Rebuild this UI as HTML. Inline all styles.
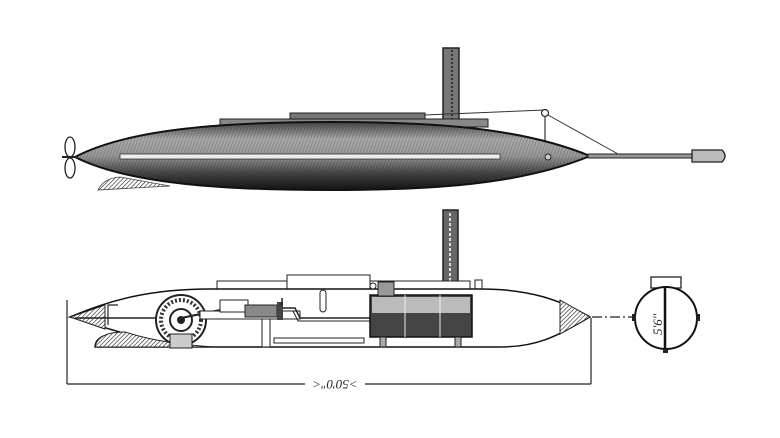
<!DOCTYPE html>
<html><head><meta charset="utf-8"><style>
html,body{margin:0;padding:0;background:#fff;}
svg{display:block;}
</style></head><body>
<svg width="780" height="438" viewBox="0 0 780 438" xmlns="http://www.w3.org/2000/svg">
<defs>
<pattern id="h" width="3" height="3" patternUnits="userSpaceOnUse" patternTransform="rotate(20)">
<rect width="3" height="3" fill="none"/><line x1="0" y1="0" x2="0" y2="3" stroke="#222" stroke-width="1.2"/></pattern>
<pattern id="d" width="3" height="3" patternUnits="userSpaceOnUse" patternTransform="rotate(45)">
<rect width="3" height="3" fill="#fff"/><line x1="0" y1="0" x2="0" y2="3" stroke="#222" stroke-width="1.2"/></pattern>
<linearGradient id="g" x1="0" y1="0" x2="0" y2="1">
<stop offset="0" stop-color="#444"/><stop offset="0.25" stop-color="#aaa"/><stop offset="0.5" stop-color="#999"/><stop offset="0.75" stop-color="#444"/><stop offset="1" stop-color="#111"/></linearGradient>
</defs>
<rect width="780" height="438" fill="#fff"/>
<!-- TOP VIEW -->
<rect x="443" y="48" width="16" height="78" fill="#777" stroke="#222" stroke-width="1.5"/>
<line x1="452" y1="50" x2="452" y2="124" stroke="#333" stroke-width="2" stroke-dasharray="2 2"/>
<rect x="290" y="113" width="135" height="8" fill="#777" stroke="#222"/>
<rect x="220" y="119" width="268" height="8" fill="#888" stroke="#222"/>
<line x1="425" y1="115" x2="545" y2="110" stroke="#333" stroke-width="1"/>
<circle cx="545" cy="113" r="3.5" fill="#fff" stroke="#222" stroke-width="1.2"/>
<line x1="545" y1="116" x2="545" y2="155" stroke="#333" stroke-width="1.2"/>
<line x1="548" y1="115" x2="618" y2="154" stroke="#333" stroke-width="1"/>
<path d="M98,190 Q104,178 120,177 L170,186 Z" fill="url(#d)" stroke="#444" stroke-width="0.8"/>
<path d="M75,157 C130,128 230,122 330,122 C430,122 520,127 590,156 C520,185 430,190 330,190 C230,190 130,185 75,157 Z" fill="url(#g)" stroke="#111" stroke-width="2"/>
<path d="M75,157 C130,128 230,122 330,122 C430,122 520,127 590,156 C520,185 430,190 330,190 C230,190 130,185 75,157 Z" fill="url(#h)" opacity="0.35"/>
<rect x="120" y="154" width="380" height="5" fill="#eee" stroke="#333" stroke-width="0.8"/>
<circle cx="548" cy="157" r="3" fill="#ccc" stroke="#222"/>
<rect x="588" y="154" width="104" height="4" fill="#999" stroke="#222" stroke-width="1"/>
<path d="M692,150 L722,150 Q728,156 722,162 L692,162 Z" fill="#bbb" stroke="#222" stroke-width="1.3"/>
<ellipse cx="70" cy="147" rx="5" ry="10" fill="#fff" stroke="#222" stroke-width="1.3"/>
<ellipse cx="70" cy="168" rx="5" ry="10" fill="#fff" stroke="#222" stroke-width="1.3"/>
<line x1="62" y1="157" x2="78" y2="157" stroke="#222" stroke-width="2"/>
<!-- BOTTOM VIEW -->
<rect x="443" y="210" width="15" height="85" fill="#666" stroke="#222" stroke-width="1.5"/>
<line x1="450" y1="213" x2="450" y2="292" stroke="#ddd" stroke-width="2" stroke-dasharray="3 2"/>
<rect x="217" y="281" width="70" height="8" fill="#fff" stroke="#222"/>
<rect x="287" y="275" width="83" height="14" fill="#fff" stroke="#222"/>
<rect x="370" y="281" width="100" height="8" fill="#fff" stroke="#222"/>
<rect x="475" y="280" width="7" height="9" fill="#fff" stroke="#222"/>
<path d="M70,317 C110,300 150,289 210,289 L480,289 C530,289 560,300 590,317 C560,334 540,347 500,347 L95,347 C95,340 100,335 120,332 C100,327 85,320 70,317 Z" fill="#fff" stroke="#111" stroke-width="1.5"/>
<path d="M70,317 L105,305 L105,329 Z" fill="url(#d)" stroke="#222"/>
<path d="M95,347 C97,335 110,332 125,332 C150,340 180,345 215,347 Z" fill="url(#d)" stroke="#222"/>
<path d="M560,300 L590,317 L560,334 Z" fill="url(#d)" stroke="#222"/>
<path d="M108,325 L108,305 L118,305" fill="none" stroke="#222" stroke-width="1.2"/>
<line x1="75" y1="318" x2="290" y2="318" stroke="#222" stroke-width="1.5"/>
<circle cx="181" cy="320" r="25" fill="#fff" stroke="#222" stroke-width="2"/>
<circle cx="181" cy="320" r="20" fill="none" stroke="#333" stroke-width="4" stroke-dasharray="2 2"/>
<circle cx="181" cy="320" r="11" fill="#fff" stroke="#222" stroke-width="2"/>
<circle cx="181" cy="320" r="4" fill="#222"/>
<rect x="170" y="334" width="22" height="14" fill="#ccc" stroke="#222"/>
<path d="M181,318 L245,305" stroke="#222" stroke-width="2"/>
<rect x="200" y="311" width="100" height="8" fill="#fff" stroke="#222"/>
<rect x="220" y="300" width="28" height="12" fill="#fff" stroke="#222"/>
<rect x="245" y="305" width="32" height="12" fill="#888" stroke="#222"/>
<rect x="277" y="302" width="6" height="18" fill="#444"/>
<rect x="262" y="319" width="8" height="28" fill="#fff" stroke="#222"/>
<path d="M283,308 L295,308 L300,318 L370,318" fill="none" stroke="#222" stroke-width="1.5"/>
<path d="M283,311 L293,311 L298,321 L370,321" fill="none" stroke="#222" stroke-width="1"/>
<line x1="282" y1="298" x2="282" y2="306" stroke="#222" stroke-width="1.5"/>
<rect x="320" y="290" width="6" height="22" rx="3" fill="#fff" stroke="#222"/>
<rect x="274" y="338" width="90" height="5" fill="#fff" stroke="#222"/>
<rect x="370" y="295" width="102" height="42" fill="#444" stroke="#111" stroke-width="1.5"/>
<rect x="372" y="297" width="98" height="16" fill="#bbb"/>
<line x1="405" y1="295" x2="405" y2="337" stroke="#eee"/>
<line x1="440" y1="295" x2="440" y2="337" stroke="#eee"/>
<rect x="378" y="282" width="16" height="14" fill="#999" stroke="#222"/>
<circle cx="373" cy="286" r="3" fill="#fff" stroke="#222"/>
<rect x="380" y="337" width="6" height="10" fill="#aaa" stroke="#222"/>
<rect x="455" y="337" width="6" height="10" fill="#aaa" stroke="#222"/>
<line x1="592" y1="317" x2="700" y2="317" stroke="#222" stroke-width="1.2" stroke-dasharray="10 3 2 3"/>
<rect x="651" y="277" width="30" height="11" fill="#fff" stroke="#222" stroke-width="1.3"/>
<ellipse cx="666" cy="318" rx="31" ry="31" fill="#fff" stroke="#111" stroke-width="2"/>
<line x1="665" y1="287" x2="665" y2="349" stroke="#111" stroke-width="2.5"/>
<rect x="632" y="314" width="4" height="7" fill="#222"/>
<rect x="696" y="314" width="4" height="7" fill="#222"/>
<rect x="663" y="349" width="5" height="4" fill="#222"/>
<text x="0" y="0" transform="translate(662,335) rotate(-90)" font-family="Liberation Serif, serif" font-style="italic" font-size="13" fill="#222">5'6"</text>
<line x1="67" y1="300" x2="67" y2="384" stroke="#222" stroke-width="1.2"/>
<line x1="591" y1="318" x2="591" y2="384" stroke="#222" stroke-width="1.2"/>
<line x1="67" y1="384" x2="305" y2="384" stroke="#222" stroke-width="1.2"/>
<line x1="365" y1="384" x2="591" y2="384" stroke="#222" stroke-width="1.2"/>
<text x="335" y="388" text-anchor="middle" font-family="Liberation Serif, serif" font-style="italic" font-size="13" fill="#222" transform="rotate(180 335 384)">&gt;50'0"&lt;</text>
</svg>
</body></html>
